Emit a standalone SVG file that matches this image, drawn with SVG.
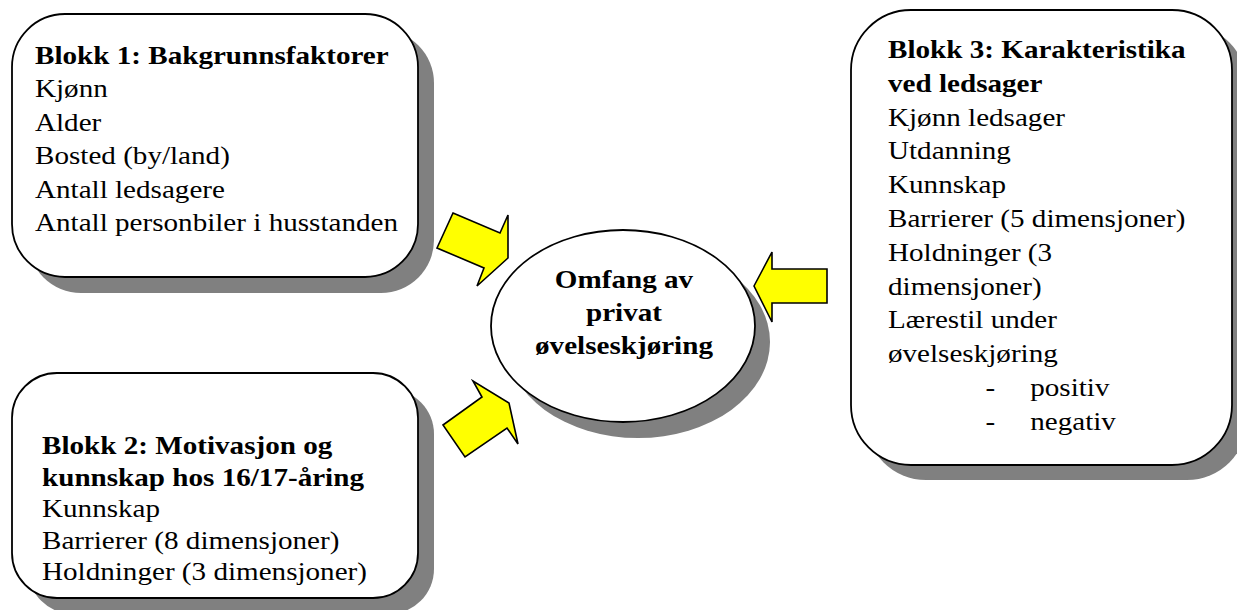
<svg xmlns="http://www.w3.org/2000/svg" width="1237" height="610" viewBox="0 0 1237 610">
<style>
.shadow{fill:#808080;stroke:none}
.box{fill:#ffffff;stroke:#000000;stroke-width:1.8}
.t{font-family:"Liberation Serif","Times New Roman",serif;font-size:26px;fill:#000000}
.b{font-weight:bold}
.arrow{fill:#ffff00;stroke:#000000;stroke-width:1.6;stroke-linejoin:miter}
</style>
<rect x="0" y="0" width="1237" height="610" fill="#ffffff"/>
<g id="blokk1">
<rect class="shadow" x="28" y="30" width="406" height="263" rx="53" ry="53"/>
<rect class="box" x="12" y="14" width="406" height="263" rx="53" ry="53"/>
<g transform="translate(35,0) scale(1.12,1)">
<text class="t b" x="0" y="64">Blokk 1: Bakgrunnsfaktorer</text>
<text class="t" x="0" y="97.5">Kjønn</text>
<text class="t" x="0" y="131">Alder</text>
<text class="t" x="0" y="164.3">Bosted (by/land)</text>
<text class="t" x="0" y="197.7">Antall ledsagere</text>
<text class="t" x="0" y="231">Antall personbiler i husstanden</text>
</g>
</g>
<g id="blokk2">
<rect class="shadow" x="28" y="389" width="406" height="225" rx="45" ry="45"/>
<rect class="box" x="12" y="373" width="406" height="225" rx="45" ry="45"/>
<g transform="translate(42,0) scale(1.12,1)">
<text class="t b" x="0" y="454">Blokk 2: Motivasjon og</text>
<text class="t b" x="0" y="486">kunnskap hos 16/17-åring</text>
<text class="t" x="0" y="517.5">Kunnskap</text>
<text class="t" x="0" y="549">Barrierer (8 dimensjoner)</text>
<text class="t" x="0" y="580.5">Holdninger (3 dimensjoner)</text>
</g>
</g>
<g id="blokk3">
<rect class="shadow" x="866" y="25" width="381" height="455" rx="60" ry="60"/>
<rect class="box" x="851" y="10" width="381" height="455" rx="60" ry="60"/>
<g transform="translate(888,0) scale(1.12,1)">
<text class="t b" x="0" y="58">Blokk 3: Karakteristika</text>
<text class="t b" x="0" y="91.8">ved ledsager</text>
<text class="t" x="0" y="125.6">Kjønn ledsager</text>
<text class="t" x="0" y="159.4">Utdanning</text>
<text class="t" x="0" y="193.2">Kunnskap</text>
<text class="t" x="0" y="227">Barrierer (5 dimensjoner)</text>
<text class="t" x="0" y="260.8">Holdninger (3</text>
<text class="t" x="0" y="294.6">dimensjoner)</text>
<text class="t" x="0" y="328.4">Lærestil under</text>
<text class="t" x="0" y="362.2">øvelseskjøring</text>
<text class="t" x="87" y="396">-</text>
<text class="t" x="127" y="396">positiv</text>
<text class="t" x="87" y="429.8">-</text>
<text class="t" x="127" y="429.8">negativ</text>
</g>
</g>
<g id="omfang">
<ellipse class="shadow" cx="638" cy="342" rx="132" ry="96"/>
<ellipse class="box" cx="623" cy="326" rx="132" ry="96"/>
<g transform="translate(624,0) scale(1.12,1)">
<text class="t b" x="0" y="288" text-anchor="middle">Omfang av</text>
<text class="t b" x="0" y="321" text-anchor="middle">privat</text>
<text class="t b" x="0" y="354.5" text-anchor="middle">øvelseskjøring</text>
</g>
</g>
<g id="connectors">
<polygon class="arrow" points="453,213 500,233 508,215 508,258 477,286 484,268 437,248"/>
<polygon class="arrow" points="443,425 482,397 473,381 509,403 518,444 507,428 465,457"/>
<polygon class="arrow" points="754,286 772,252 772,269 827,269 827,303 772,303 772,322"/>
</g>
</svg>
